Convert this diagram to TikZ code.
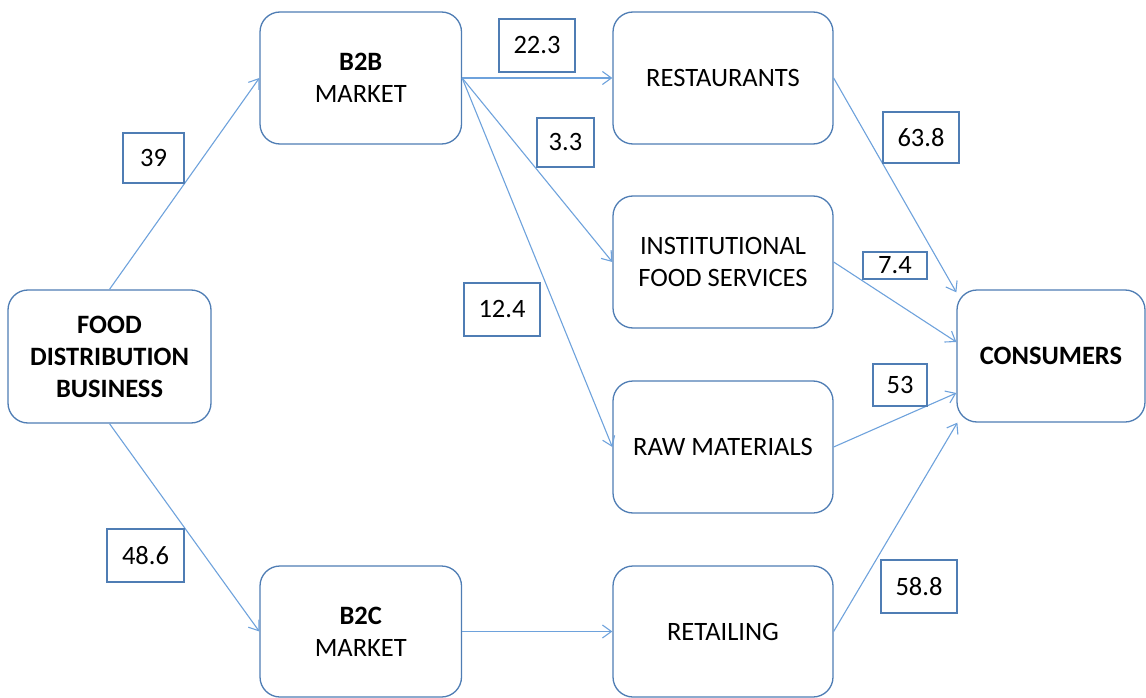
\documentclass[tikz,border=0pt]{standalone}
\usepackage{fontspec}
\setmainfont{Carlito}
\usetikzlibrary{arrows.meta}
\definecolor{boxblue}{RGB}{79,125,180}
\definecolor{arrowblue}{RGB}{110,162,220}
\begin{document}
\begin{tikzpicture}[x=1pt,y=-1pt,
  every node/.style={font=\fontsize{26.5}{32}\selectfont, text=black, align=center},
  blk/.style={draw=boxblue, line width=1.3pt, rounded corners=20pt, fill=white, inner sep=0pt,
    minimum width=#1, minimum height=132pt},
  blk/.default=220pt,
  lbl/.style={draw=boxblue, line width=1.2pt, fill=white, inner sep=0pt},
  flow/.style={draw=arrowblue, line width=1.1pt, -{Straight Barb[length=9pt,width=13pt]}}]
\useasboundingbox (0,0) rectangle (1146,698);
% main blocks
\node[blk=203pt, minimum height=133pt] (fdb) at (109.5,356.5) {\textbf{FOOD}\\\textbf{DISTRIBUTION}\\\textbf{BUSINESS}};
\node[blk=201.5pt] (b2b) at (360.75,78) {\textbf{B2B}\\MARKET};
\node[blk=201.5pt, minimum height=131pt] (b2c) at (360.75,631.5) {\textbf{B2C}\\MARKET};
\node[blk] (rest) at (723,78) {RESTAURANTS};
\node[blk] (inst) at (723,262) {INSTITUTIONAL\\FOOD SERVICES};
\node[blk] (raw) at (723,447) {RAW MATERIALS};
\node[blk, minimum height=131pt] (ret) at (723,631.5) {RETAILING};
\node[blk=188pt] (cons) at (1051,356) {\textbf{CONSUMERS}};
% connectors
\draw[flow] (fdb.north) -- (b2b.west);
\draw[flow] (fdb.south) -- (b2c.west);
\draw[flow] (b2b.east) -- (rest.west);
\draw[flow] (b2b.east) -- (inst.west);
\draw[flow] (b2b.east) -- (raw.west);
\draw[flow] (b2c.east) -- (ret.west);
\draw[flow] (rest.east) -- ([yshift=-3pt]cons.north west);
\draw[flow] (inst.east) -- ([yshift=14pt]cons.west);
\draw[flow] (raw.east) -- ([yshift=-37pt]cons.west);
\draw[flow] (ret.east) -- ([xshift=1pt]cons.south west);
% value labels
\node[lbl, minimum width=61pt, minimum height=50pt] (l39) at (153.5,158) {39};
\node[lbl, minimum width=77pt, minimum height=53pt] (l486) at (145.5,555.5) {48.6};
\node[lbl, minimum width=76pt, minimum height=53pt] (l223) at (537,45.5) {22.3};
\node[lbl, minimum width=57pt, minimum height=49pt] (l33) at (565.5,142.5) {3.3};
\node[lbl, minimum width=76pt, minimum height=53pt] (l124) at (502,309.5) {12.4};
\node[lbl, minimum width=76pt, minimum height=51pt] (l638) at (921,137.5) {63.8};
\node[lbl, minimum width=64pt, minimum height=27pt] (l74) at (895,265.5) {7.4};
\node[lbl, minimum width=54pt, minimum height=42pt] (l53) at (900,385) {53};
\node[lbl, minimum width=76pt, minimum height=53pt] (l588) at (919,586.5) {58.8};
\end{tikzpicture}
\end{document}
